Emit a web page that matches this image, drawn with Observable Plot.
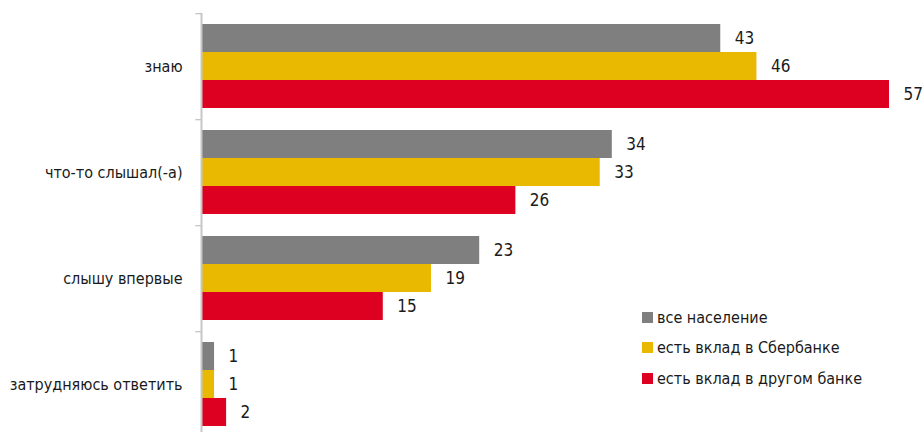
<!DOCTYPE html>
<html>
<head>
<meta charset="utf-8">
<script src="https://cdn.jsdelivr.net/npm/d3@7"></script>
<script src="https://cdn.jsdelivr.net/npm/@observablehq/plot@0.6"></script>
<style>
  body { margin: 0; background: #fff; }
  #wrap { position: relative; width: 924px; height: 432px; overflow: hidden;
    font-family: "Liberation Sans Narrow", "DejaVu Sans Condensed", sans-serif; }
  #legend { position: absolute; left: 642px; top: 302px; }
  .row { display: flex; align-items: center; height: 30.5px; font-size: 16px; color: #1a1a1a; }
  .sw { width: 11px; height: 11px; margin-right: 4px; flex: none; }
</style>
</head>
<body>
<div id="wrap"><div id="chart"></div><div id="legend"></div></div>
<script>
const categories = ["знаю", "что-то слышал(-а)", "слышу впервые", "затрудняюсь ответить"];
const series = ["все население", "есть вклад в Сбербанке", "есть вклад в другом банке"];
const allPopulation = [43, 34, 23, 1];
const sberDeposit = [46, 33, 19, 1];
const otherBankDeposit = [57, 26, 15, 2];
const colors = ["#7f7f7f", "#e8b900", "#de0021"];

const seriesValues = [allPopulation, sberDeposit, otherBankDeposit];
const data = categories.flatMap((c, i) =>
  series.map((s, j) => ({category: c, series: s, value: seriesValues[j][i]})));

const font = '"Liberation Sans Narrow", "DejaVu Sans Condensed", sans-serif';
const step = (432 + 5 - 13) / categories.length;
const bw = step / (series.length + 0.7);
const outer = 0.35 * bw;

const chart = Plot.plot({
  width: 924,
  height: 432,
  marginLeft: 202,
  marginRight: 35,
  marginTop: 13,
  marginBottom: -5,
  x: {domain: [0, 57], axis: null},
  y: {domain: series, axis: null, paddingInner: 0, paddingOuter: 0.35},
  fy: {domain: categories, axis: "left", padding: 0, label: null, tickSize: 0, tickPadding: 20},
  color: {domain: series, range: colors},
  style: {fontFamily: font, fontSize: "16px", color: "#1a1a1a", background: "transparent", overflow: "visible"},
  marks: [
    Plot.barX(data, {x: "value", y: "series", fy: "category", fill: "series"}),
    Plot.text(data, {x: "value", y: "series", fy: "category", text: d => String(d.value),
      textAnchor: "start", dx: 14, fontSize: 17, fill: "#1a1a1a"}),
    Plot.ruleX([0], {stroke: "#c6c6c6", strokeWidth: 2, dx: -1}),
    Plot.barX(categories, {fy: d => d, y: () => series[0], x1: () => -0.55, x2: () => 0,
      fill: "#c6c6c6", insetTop: -outer - 1, insetBottom: bw + outer - 1})
  ]
});
document.getElementById("chart").appendChild(chart);

const legend = document.getElementById("legend");
series.forEach((s, j) => {
  const row = document.createElement("div");
  row.className = "row";
  const sw = document.createElement("span");
  sw.className = "sw";
  sw.style.background = colors[j];
  const t = document.createElement("span");
  t.textContent = s;
  row.appendChild(sw);
  row.appendChild(t);
  legend.appendChild(row);
});
</script>
</body>
</html>
